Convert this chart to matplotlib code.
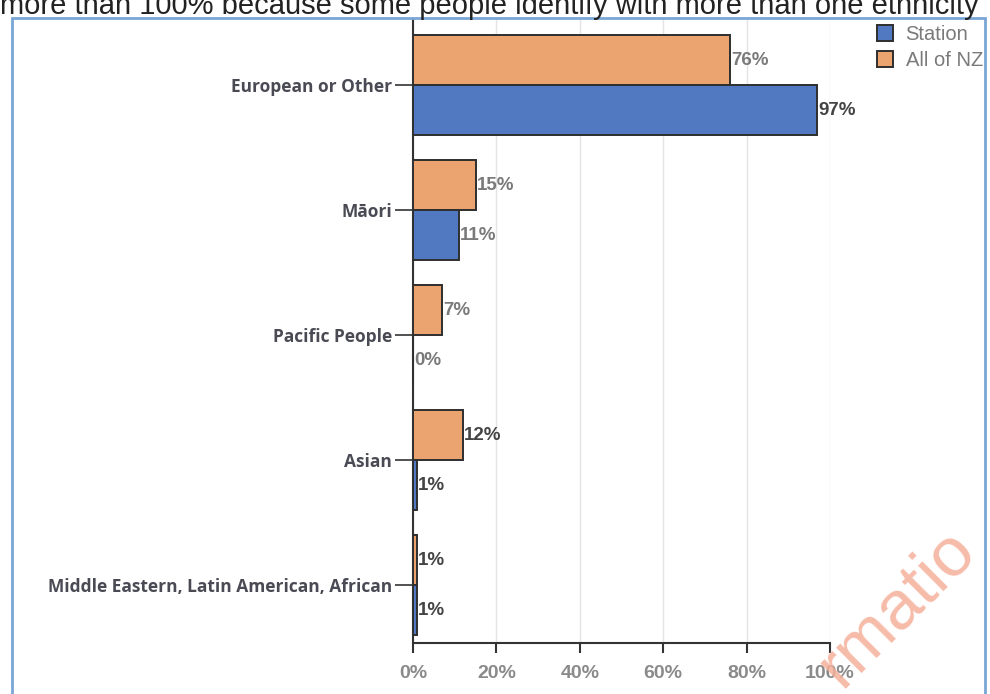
import matplotlib.pyplot as plt
import numpy as np
from matplotlib.patches import Rectangle

# data
categories = ['European or Other', 'Māori', 'Pacific People', 'Asian',
              'Middle Eastern, Latin American, African']
station = [97, 11, 0, 1, 1]
all_nz = [76, 15, 7, 12, 1]
x_ticks = [0, 20, 40, 60, 80, 100]
x_tick_labels = ['0%', '20%', '40%', '60%', '80%', '100%']

blue = '#5079c2'
orange = '#eba470'
edge = '#2e2e2e'

fig = plt.figure(figsize=(9.9, 6.94), dpi=100)
ax = fig.add_axes([413 / 990, 1 - 643 / 694, 417 / 990, 623 / 694])

y = np.arange(len(categories))
h = 0.4
ax.barh(y - 0.2, all_nz, height=h, color=orange, edgecolor=edge, linewidth=1.4,
        label='All of NZ', zorder=3)
ax.barh(y + 0.2, station, height=h, color=blue, edgecolor=edge, linewidth=1.4,
        label='Station', zorder=3)

# value labels
for yi, v in zip(y, all_nz):
    c = '#444444' if v in (12, 1) else '#7a7a7a'
    ax.text(v + 0.2, yi - 0.2, f'{v}%', va='center', ha='left', fontsize=13.5,
            color=c, fontweight='bold', family='Liberation Sans', zorder=4)
for yi, v in zip(y, station):
    c = '#444444' if v in (97, 1) else '#7a7a7a'
    ax.text(v + 0.2, yi + 0.2, f'{v}%', va='center', ha='left', fontsize=13.5,
            color=c, fontweight='bold', family='Liberation Sans', zorder=4)

ax.set_xlim(0, 100)
ax.set_ylim(4.46, -0.52)
ax.set_yticks(y)
ax.set_yticklabels(categories, fontsize=12.5, color='#4a4a55', fontweight='bold',
                   family='Open Sans')
ax.set_xticks(x_ticks)
ax.set_xticklabels(x_tick_labels, fontsize=14, color='#8a8a8a',
                   fontweight='bold', family='Liberation Sans')
ax.tick_params(axis='y', length=13, width=1.2, color='#333333', pad=2)
ax.tick_params(axis='x', length=7, width=1.5, color='#333333', pad=9)

ax.grid(axis='x', color='#e4e4e4', linewidth=1, zorder=0)
for s in ('top', 'right'):
    ax.spines[s].set_visible(False)
ax.spines['left'].set_color('#333333')
ax.spines['left'].set_linewidth(1.5)
ax.spines['bottom'].set_color('#333333')
ax.spines['bottom'].set_linewidth(1.5)

# legend: Station first
handles, labels = ax.get_legend_handles_labels()
fig.legend(handles[::-1], labels[::-1], loc='upper right',
           bbox_to_anchor=(1.011, 0.99), frameon=False, handlelength=0.8,
           handleheight=0.8, handletextpad=0.6, labelspacing=0.35,
           prop={'family': 'Liberation Sans', 'size': 14.5}, labelcolor='#7a7a7a')

# surrounding frame of the scanned page
fig.patches.append(Rectangle((12 / 990, -0.05), 973 / 990, 1 - 18 / 694 + 0.05,
                             transform=fig.transFigure, fill=False,
                             edgecolor='#7aa6d6', linewidth=2))

# caption line at the top (clipped in the scan)
fig.text(0.0, 1 - 14 / 694, 'more than 100% because some people identify with more than one ethnicity',
         fontsize=21, family='Liberation Sans', color='#222222', va='baseline')

# watermark fragment
fig.text(0.905, 0.125, 'rmatio', fontsize=50, color='#f5b09a', alpha=0.85,
         rotation=45, ha='center', va='center', family='Liberation Sans')

fig.savefig('out.png', dpi=100)
